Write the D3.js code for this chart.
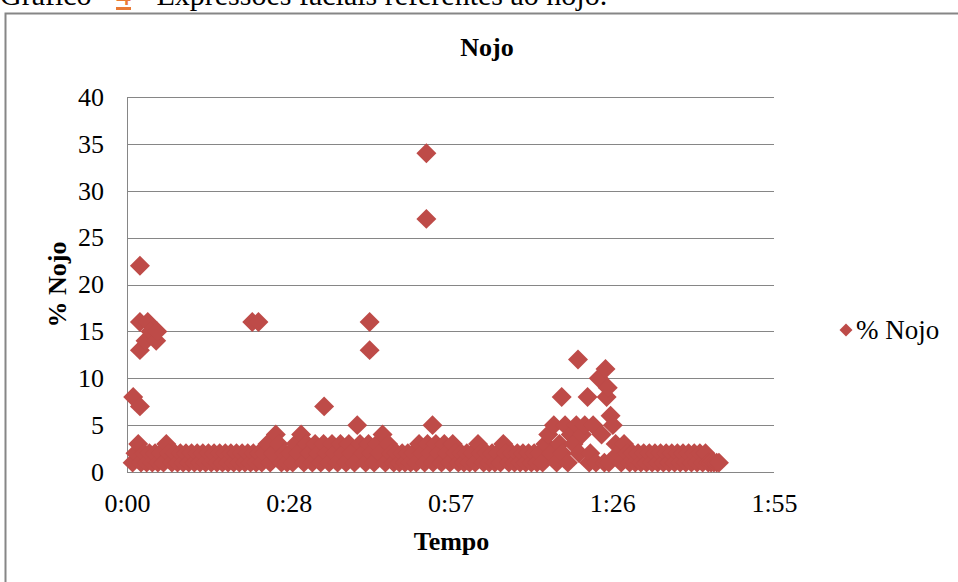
<!DOCTYPE html>
<html>
<head>
<meta charset="utf-8">
<script src="https://cdn.jsdelivr.net/npm/d3@7"></script>
<style>
  body { margin: 0; background: #fff; }
  svg { display: block; font-family: "Liberation Serif", "Times New Roman", serif; }
</style>
</head>
<body>
<div id="chart"></div>
<script>
// tempo em segundos, % Nojo
const tempo = [
  1.0, 1.1, 1.5, 2.0, 2.3, 2.3, 2.3, 2.3, 2.5, 3.0, 3.3, 3.5, 3.7, 4.0, 4.2, 4.5,
  5.0, 5.2, 5.4, 5.5, 6.0, 6.5, 7.0, 7.5, 8.0, 8.5, 9.0, 9.5,
  10, 10.5, 11, 11.5, 12, 12.5, 13, 13.5, 14, 14.5,
  15, 15.5, 16, 16.5, 17, 17.5, 18, 18.5, 19, 19.5,
  20, 20.5, 21, 21.5, 22, 22.3, 22.5, 23, 23.4, 23.5, 24, 24.5,
  25, 25.5, 26, 26.5, 27, 27.5, 28, 28.5, 29, 29.5,
  30, 30.5, 31, 31.5, 32, 32.5, 33, 33.5, 34, 34.5,
  35, 35.1, 35.5, 36, 36.5, 37, 37.5, 38, 38.5, 39, 39.5,
  40, 40.5, 41, 41.5, 42, 42.5, 43, 43.2, 43.2, 43.5, 44, 44.5,
  45, 45.5, 46, 46.5, 47, 47.5, 48, 48.5, 49, 49.5,
  50, 50.5, 51, 51.5, 52, 52.5, 53, 53.3, 53.3, 53.5, 54, 54.4, 54.5,
  55, 55.5, 56, 56.5, 57, 57.5, 58, 58.5, 59, 59.5,
  60, 60.5, 61, 61.5, 62, 62.5, 63, 63.5, 64, 64.5,
  65, 65.5, 66, 66.5, 67, 67.5, 68, 68.5, 69, 69.5,
  70, 70.5, 71, 71.5, 72, 72.5, 73, 73.5, 74, 74.5,
  75, 75.5, 76, 76.5, 77, 77.4, 77.5, 78, 78.5, 79, 79.5,
  80, 80.3, 80.5, 81, 81.5, 82, 82.3, 82.5, 83, 83.5, 84, 84.5,
  85, 85.2, 85.4, 85.6, 85.8, 86.1, 86.5, 87, 87.5, 88, 88.5, 89, 89.5,
  90, 90.5, 91, 91.5, 92, 92.5, 93, 93.5, 94, 94.5,
  95, 95.5, 96, 96.5, 97, 97.5, 98, 98.5, 99, 99.5,
  100, 100.5, 101, 101.5, 102, 102.5, 103, 103.5, 104, 104.5, 105, 105.4
];
const nojo = [
  1, 8, 2, 3, 22, 16, 13, 7, 1, 2, 14, 1, 16, 2, 15, 1,
  2, 14, 15, 1, 2, 1, 3, 2, 1, 2, 1, 2,
  1, 2, 1, 2, 1, 2, 1, 2, 1, 2,
  1, 2, 1, 2, 1, 2, 1, 2, 1, 2,
  1, 2, 1, 2, 1, 16, 2, 1, 16, 2, 1, 2,
  3, 1, 2, 4, 3, 1, 2, 1, 2, 1,
  3, 2, 4, 1, 3, 2, 1, 3, 2, 1,
  3, 7, 2, 1, 3, 2, 1, 3, 2, 1, 3,
  2, 1, 5, 3, 2, 1, 3, 16, 13, 2, 1, 3,
  2, 4, 1, 3, 2, 1, 2, 1, 2, 1,
  2, 1, 2, 1, 3, 2, 1, 34, 27, 3, 2, 5, 1,
  3, 2, 1, 3, 2, 1, 3, 2, 1, 2,
  1, 2, 1, 2, 1, 3, 2, 1, 2, 1,
  2, 1, 2, 1, 3, 2, 1, 2, 1, 2,
  1, 2, 1, 2, 1, 2, 1, 2, 1, 3,
  4, 2, 5, 1, 3, 8, 2, 5, 1, 4, 3,
  5, 12, 2, 4, 5, 8, 1, 2, 5, 1, 10, 4,
  1, 11, 8, 9, 1, 6, 5, 3, 2, 1, 3, 2, 1,
  2, 1, 2, 1, 2, 1, 2, 1, 2, 1,
  2, 1, 2, 1, 2, 1, 2, 1, 2, 1,
  2, 1, 2, 1, 2, 1, 2, 1, 1, 1, 1, 1
];

const ticksX = [0, 28.8, 57.6, 86.4, 115.2];
const rotulosX = ["0:00", "0:28", "0:57", "1:26", "1:55"];
const ticksY = [0, 5, 10, 15, 20, 25, 30, 35, 40];
const serie = "% Nojo";

const WIDTH = 958, HEIGHT = 582;
const PLOT = { LEFT: 127, RIGHT: 774, TOP: 97, BOTTOM: 472 };
const COR = "#BE4B48";
const GRADE = "#868686";

const svg = d3.select("#chart")
    .append("svg")
        .attr("width", WIDTH)
        .attr("height", HEIGHT);

// legenda do documento (cortada no topo, como no original)
const legenda = svg.append("text")
    .attr("y", 5)
    .attr("font-size", 30);
legenda.append("tspan").attr("x", 0).text("Gráfico");
legenda.append("tspan")
    .attr("x", 116)
    .attr("fill", "#E97A35")
    .attr("text-decoration", "underline")
    .text("4");
legenda.append("tspan").attr("x", 139).text("- Expressões faciais referentes ao nojo.");

// moldura do gráfico
svg.append("rect")
    .attr("x", 5.5)
    .attr("y", 13.5)
    .attr("width", 1000)
    .attr("height", 700)
    .attr("fill", "none")
    .attr("stroke", GRADE)
    .attr("stroke-width", 2);

const x = d3.scaleLinear().domain([0, 115.2]).range([PLOT.LEFT, PLOT.RIGHT]);
const y = d3.scaleLinear().domain([0, 40]).range([PLOT.BOTTOM, PLOT.TOP]);

// linhas de grade
svg.append("g")
    .selectAll("line")
    .data(ticksY.filter(d => d > 0))
    .enter()
    .append("line")
        .attr("x1", PLOT.LEFT)
        .attr("x2", PLOT.RIGHT)
        .attr("y1", d => Math.round(y(d)) + 0.5)
        .attr("y2", d => Math.round(y(d)) + 0.5)
        .attr("stroke", GRADE);

// eixos
svg.append("line")
    .attr("x1", PLOT.LEFT + 0.5).attr("x2", PLOT.LEFT + 0.5)
    .attr("y1", PLOT.TOP).attr("y2", PLOT.BOTTOM)
    .attr("stroke", GRADE);
svg.append("line")
    .attr("x1", PLOT.LEFT).attr("x2", PLOT.RIGHT)
    .attr("y1", PLOT.BOTTOM + 0.5).attr("y2", PLOT.BOTTOM + 0.5)
    .attr("stroke", GRADE);

const yAxis = svg.append("g")
    .attr("transform", `translate(${PLOT.LEFT}, 0)`)
    .call(d3.axisLeft(y).tickValues(ticksY).tickSize(0).tickPadding(23));
const xAxis = svg.append("g")
    .attr("transform", `translate(0, ${PLOT.BOTTOM})`)
    .call(d3.axisBottom(x).tickValues(ticksX).tickFormat((d, i) => rotulosX[i]).tickSize(0).tickPadding(22));

[yAxis, xAxis].forEach(g => {
    g.select(".domain").remove();
    g.attr("font-family", null).attr("font-size", 26);
    g.selectAll("text").attr("fill", "#000");
});

// pontos
const diamante = d3.symbol(d3.symbolSquare, 200)();
svg.append("g")
    .selectAll("path")
    .data(tempo.map((t, i) => [t, nojo[i]]))
    .enter()
    .append("path")
        .attr("d", diamante)
        .attr("transform", d => `translate(${x(d[0])}, ${y(d[1])}) rotate(45)`)
        .attr("fill", COR);

// títulos
svg.append("text")
    .attr("x", 487)
    .attr("y", 56)
    .attr("text-anchor", "middle")
    .attr("font-size", 26)
    .attr("font-weight", "bold")
    .text("Nojo");

svg.append("text")
    .attr("x", (PLOT.LEFT + PLOT.RIGHT) / 2 + 1)
    .attr("y", 550)
    .attr("text-anchor", "middle")
    .attr("font-size", 26)
    .attr("font-weight", "bold")
    .text("Tempo");

svg.append("text")
    .attr("transform", `translate(66, ${(PLOT.TOP + PLOT.BOTTOM) / 2}) rotate(-90)`)
    .attr("text-anchor", "middle")
    .attr("font-size", 26)
    .attr("font-weight", "bold")
    .text(serie);

// legenda da série
svg.append("path")
    .attr("d", d3.symbol(d3.symbolSquare, 85)())
    .attr("transform", "translate(846, 330) rotate(45)")
    .attr("fill", COR);
svg.append("text")
    .attr("x", 856)
    .attr("y", 339)
    .attr("font-size", 27)
    .text(serie);
</script>
</body>
</html>
